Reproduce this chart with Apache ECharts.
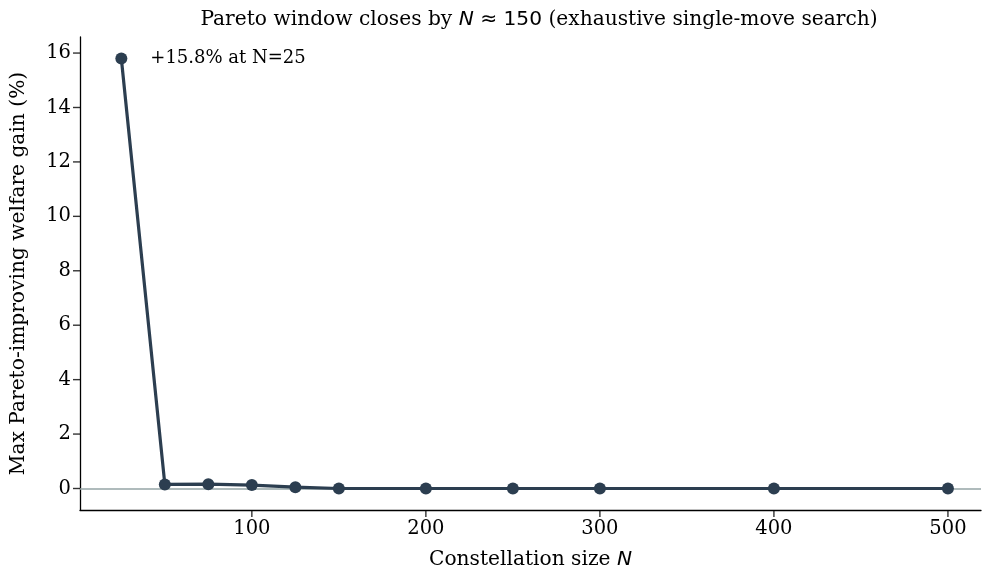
<!DOCTYPE html>
<html>
<head>
<meta charset="utf-8">
<script src="https://cdn.jsdelivr.net/npm/echarts@6/dist/echarts.min.js"></script>
<style>
  html, body { margin: 0; padding: 0; background: #fff; }
  #chart { width: 982px; height: 573px; }
</style>
</head>
<body>
<div id="chart"></div>
<script>
// Constellation sizes searched and the best Pareto-improving gain found at each
const sizes = [25, 50, 75, 100, 125, 150, 200, 250, 300, 400, 500];
const gains = [15.8, 0.15, 0.16, 0.125, 0.05, 0, 0, 0, 0, 0, 0];
const xTicks = [100, 200, 300, 400, 500];
const yTicks = [0, 2, 4, 6, 8, 10, 12, 14, 16];

const SERIF = '"DejaVu Serif", serif';
const SANS = '"DejaVu Sans", sans-serif';
const INK = '#2c3e50';
const FS = 19.5;   // tick labels
const FL = 20.2;   // title and axis names
const X_MIN = 1.25, X_MAX = 519;
const Y_MIN = -0.79, Y_MAX = 16.59;

const chart = echarts.init(document.getElementById('chart'), null, { renderer: 'canvas' });

const mathRich = {
  t: { fontFamily: SERIF, fontWeight: 'normal', fontSize: FL, color: '#000' },
  m: { fontFamily: SANS, fontWeight: 'normal', fontStyle: 'italic', fontSize: FL, color: '#000' },
  s: { fontFamily: SANS, fontWeight: 'normal', fontSize: FL, color: '#000' }
};

// the peak point carries its own annotation
const lineData = sizes.map((n, i) => {
  if (i !== 0) return [n, gains[i]];
  return {
    value: [n, gains[i]],
    label: {
      show: true,
      position: 'right',
      distance: 23,
      formatter: () => '+' + gains[0].toFixed(1) + '% at N=' + sizes[0],
      fontFamily: SERIF,
      fontSize: 18,
      color: '#000'
    }
  };
});

// outward tick marks, sitting on the axis lines
const tickSeries = (data, size, offset) => ({
  type: 'scatter',
  data,
  symbol: 'rect',
  symbolSize: size,
  symbolOffset: offset,
  itemStyle: { color: '#000' },
  silent: true,
  clip: false,
  z: 10,
  emphasis: { disabled: true }
});

chart.setOption({
  animation: false,
  backgroundColor: '#fff',
  title: {
    text: '{t|Pareto window closes by }{m|N}{s| ≈ 150}{t| (exhaustive single-move search)}',
    left: 534,
    top: 5,
    textAlign: 'center',
    textStyle: { fontWeight: 'normal', rich: mathRich }
  },
  grid: { left: 80, right: 1, top: 37, bottom: 63, containLabel: false, outerBoundsMode: 'none' },
  xAxis: {
    type: 'value',
    min: X_MIN,
    max: X_MAX,
    splitLine: { show: false },
    axisLine: { onZero: false, lineStyle: { color: '#000', width: 1.3 } },
    axisTick: { show: false },
    axisLabel: { customValues: xTicks, color: '#000', fontFamily: SERIF, fontSize: FS, margin: 9 },
    name: '{t|Constellation size }{m|N}',
    nameLocation: 'middle',
    nameGap: 40,
    nameTextStyle: { rich: mathRich }
  },
  yAxis: {
    type: 'value',
    min: Y_MIN,
    max: Y_MAX,
    splitLine: { show: false },
    axisLine: { show: true, onZero: false, lineStyle: { color: '#000', width: 1.3 } },
    axisTick: { show: false },
    axisLabel: { customValues: yTicks, color: '#000', fontFamily: SERIF, fontSize: FS, margin: 9 },
    name: 'Max Pareto-improving welfare gain (%)',
    nameLocation: 'middle',
    nameGap: 51,
    nameTextStyle: { fontFamily: SERIF, fontSize: FL, color: '#000' }
  },
  series: [{
    type: 'line',
    data: lineData,
    symbol: 'circle',
    symbolSize: 12,
    lineStyle: { color: INK, width: 3.2 },
    itemStyle: { color: INK },
    z: 3,
    markLine: {
      silent: true,
      symbol: 'none',
      label: { show: false },
      lineStyle: { color: '#95a5a6', width: 1.6, type: 'solid' },
      data: [{ yAxis: 0 }],
      z: 1
    }
  },
  tickSeries(xTicks.map(v => [v, Y_MIN]), [1.4, 7], [0, '50%']),
  tickSeries(yTicks.map(v => [X_MIN, v]), [7, 1.4], ['-50%', 0])
  ]
});
</script>
</body>
</html>
